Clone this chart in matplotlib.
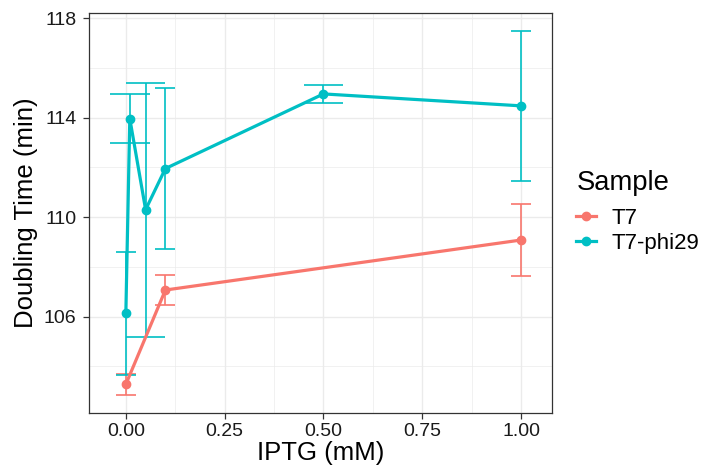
import matplotlib.pyplot as plt
from matplotlib.lines import Line2D
from matplotlib.ticker import MultipleLocator

plt.rcParams['font.family'] = ['Liberation Sans', 'DejaVu Sans']

# T7 series
t7_x = [0.0, 0.1, 1.0]
t7_mean = [103.28, 107.07, 109.08]
t7_err = [0.42, 0.60, 1.45]

# T7-phi29 series
phi_x = [0.0, 0.01, 0.05, 0.1, 0.5, 1.0]
phi_mean = [106.13, 113.96, 110.30, 111.95, 114.95, 114.47]
phi_err = [2.47, 0.98, 5.10, 3.22, 0.35, 3.00]

series_names = ['T7', 'T7-phi29']
x_ticks = [0.0, 0.25, 0.5, 0.75, 1.0]
x_tick_labels = ['0.00', '0.25', '0.50', '0.75', '1.00']
y_ticks = [106, 110, 114, 118]

# cap widths in data units (as in the ggplot output)
t7_cap = [0.05, 0.05, 0.05]
phi_cap = [0.05, 0.1, 0.1, 0.05, 0.1, 0.05]

red = '#F8766D'
teal = '#00BFC4'

fig = plt.figure(figsize=(7.17, 4.70), dpi=100)
ax = fig.add_axes([0.1241, 0.1213, 0.6459, 0.851])


def draw(ax, xs, m, e, caps, col):
    lo = [a - b for a, b in zip(m, e)]
    hi = [a + b for a, b in zip(m, e)]
    left = [x - c / 2 for x, c in zip(xs, caps)]
    right = [x + c / 2 for x, c in zip(xs, caps)]
    ax.vlines(xs, lo, hi, color=col, lw=1.2, zorder=3)
    ax.hlines(lo, left, right, color=col, lw=1.2, zorder=3)
    ax.hlines(hi, left, right, color=col, lw=1.2, zorder=3)
    ax.plot(xs, m, color=col, lw=2.3, zorder=4, solid_capstyle='butt')
    ax.plot(xs, m, 'o', color=col, ms=6, zorder=5)
    return lo, hi, left, right


lo1, hi1, l1, r1 = draw(ax, t7_x, t7_mean, t7_err, t7_cap, red)
lo2, hi2, l2, r2 = draw(ax, phi_x, phi_mean, phi_err, phi_cap, teal)

# ggplot-like 5% expansion
ymin, ymax = min(lo1 + lo2), max(hi1 + hi2)
pad = (ymax - ymin) * 0.05
ax.set_ylim(ymin - pad, ymax + pad)
xl, xr = min(l1 + l2), max(r1 + r2)
pad = (xr - xl) * 0.05
ax.set_xlim(xl - pad, xr + pad)

ax.set_xticks(x_ticks)
ax.set_xticklabels(x_tick_labels)
ax.set_yticks(y_ticks)
ax.xaxis.set_minor_locator(MultipleLocator(0.125))
ax.yaxis.set_minor_locator(MultipleLocator(2))
ax.grid(which='major', color='#EBEBEB', lw=1.0, zorder=0)
ax.grid(which='minor', color='#EBEBEB', lw=0.5, zorder=0)
ax.set_axisbelow(True)
for s in ax.spines.values():
    s.set_color('#333333')
    s.set_linewidth(0.9)
ax.tick_params(which='major', length=4, width=0.9, color='#333333',
               labelsize=14, labelcolor='#1A1A1A', pad=3)
ax.tick_params(axis='y', pad=5)
ax.tick_params(which='minor', length=0)

ax.set_xlabel('IPTG (mM)', fontsize=18.5, labelpad=1)
ax.set_ylabel('Doubling Time (min)', fontsize=18.5, labelpad=4)

# legend title placed by hand, entries below it
fig.text(0.805, 1 - 190 / 470, 'Sample', fontsize=19.7, va='baseline', ha='left')
handles = [Line2D([0], [0], color=red, lw=2.3, marker='o', ms=6),
           Line2D([0], [0], color=teal, lw=2.3, marker='o', ms=6)]
leg = fig.legend(handles, series_names, loc='center left',
                 bbox_to_anchor=(0.776, 1 - 231 / 470), frameon=False, fontsize=16,
                 handlelength=0.9, handletextpad=0.7, labelspacing=0.2)

fig.savefig('out.png', dpi=100)
